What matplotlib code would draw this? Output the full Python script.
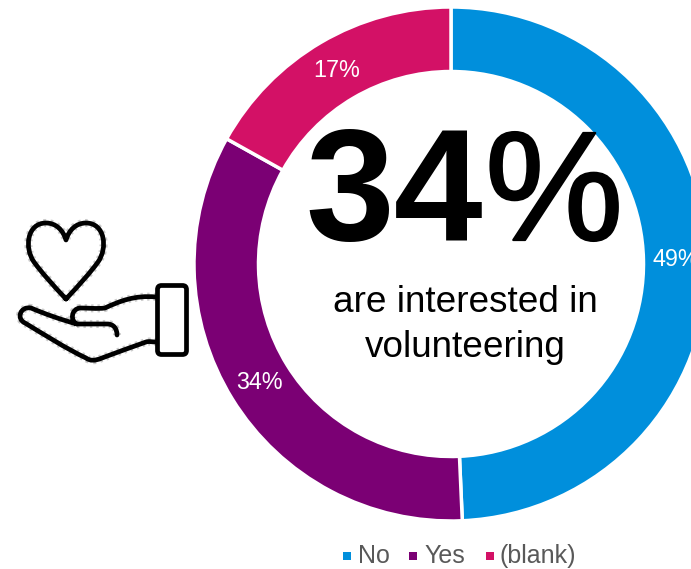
#!/usr/bin/env python3
import matplotlib
matplotlib.use('Agg')
import matplotlib.pyplot as plt
import matplotlib.patheffects as pe
from matplotlib.path import Path
from matplotlib.patches import PathPatch, FancyBboxPatch

W, H = 691, 569

categories = ['No', 'Yes', '(blank)']
shares = [49.3, 33.8, 16.9]
colors = ['#008fdc', '#7b0074', '#d31166']

headline = '34'
caption = ['are interested in', 'volunteering']

plt.rcParams['font.family'] = ['Liberation Sans', 'DejaVu Sans']

fig = plt.figure(figsize=(W / 100, H / 100), dpi=100)
ax = fig.add_axes([0, 0, 1, 1])


def fy(y):
    # icon and text positions are measured from the top edge
    return H - y


wedges, texts, pcts = ax.pie(shares, colors=colors, center=(451, fy(264)), radius=257,
                             startangle=90, counterclock=False, frame=True,
                             autopct='%.0f%%', pctdistance=0.875,
                             wedgeprops=dict(width=64.5, edgecolor='white', linewidth=2.5),
                             textprops=dict(color='white', fontsize=16.8))
ax.set_xlim(0, W)
ax.set_ylim(0, H)
ax.set_aspect('equal')
ax.axis('off')

ax.text(305, fy(240), headline, fontsize=115, fontweight='bold', color='black',
        ha='left', va='baseline')
ax.text(485, fy(240), '%', fontsize=112, color='black', ha='left', va='baseline',
        path_effects=[pe.withStroke(linewidth=1.6, foreground='black')])
ax.text(465, fy(312), caption[0], fontsize=26.6, color='black', ha='center', va='baseline')
ax.text(465, fy(357), caption[1], fontsize=26.6, color='black', ha='center', va='baseline')


def stroke(verts, codes, lw=3.4):
    pts = [(x, fy(y)) for x, y in verts]
    halo = PathPatch(Path(pts, codes), fill=False, edgecolor='#9a9a9a', lw=lw + 2.4,
                     linestyle=(0, (0.3, 0.5)), alpha=0.5)
    line = PathPatch(Path(pts, codes), fill=False, edgecolor='black', lw=lw,
                     capstyle='round', joinstyle='round')
    ax.add_patch(halo)
    ax.add_patch(line)


M, C = Path.MOVETO, Path.CURVE4

# heart
stroke([(66, 299), (52, 284), (42, 273), (34, 262),
        (24, 248), (27, 223), (46, 223),
        (56, 223), (63, 230), (66, 240),
        (69, 230), (76, 223), (86, 223),
        (105, 223), (108, 248), (98, 262),
        (90, 273), (80, 284), (66, 299)],
       [M] + [C] * 18)

# palm and back of the hand
stroke([(156, 297), (135, 295), (120, 301), (105, 308),
        (97, 309), (88, 308), (80, 308),
        (71, 309), (70, 321), (77, 324),
        (62, 320), (45, 314), (31, 308),
        (20, 306), (16, 319), (25, 323),
        (45, 335), (65, 348), (86, 358),
        (90, 361), (95, 361), (102, 358),
        (118, 352), (132, 347), (146, 342),
        (149, 341), (152, 342), (156, 342)],
       [M] + [C] * 27)

# finger
stroke([(77, 324), (90, 324), (98, 324), (107, 324),
        (114, 324), (117, 329), (117, 335)],
       [M] + [C] * 6)

# cuff
cuff = FancyBboxPatch((157.5, fy(354.5)), 29, 69, boxstyle='round,pad=0,rounding_size=4',
                      fill=False, edgecolor='black', lw=3.4)
ax.add_patch(cuff)

# legend
for x, name, col, tx in zip([347, 413, 490], categories, colors, [358, 424, 500]):
    ax.scatter([x], [fy(556)], marker='s', s=34, color=col, linewidths=0)
    ax.text(tx, fy(563), name, fontsize=18, color='#595959', ha='left', va='baseline')

fig.savefig('out.png', dpi=100)
